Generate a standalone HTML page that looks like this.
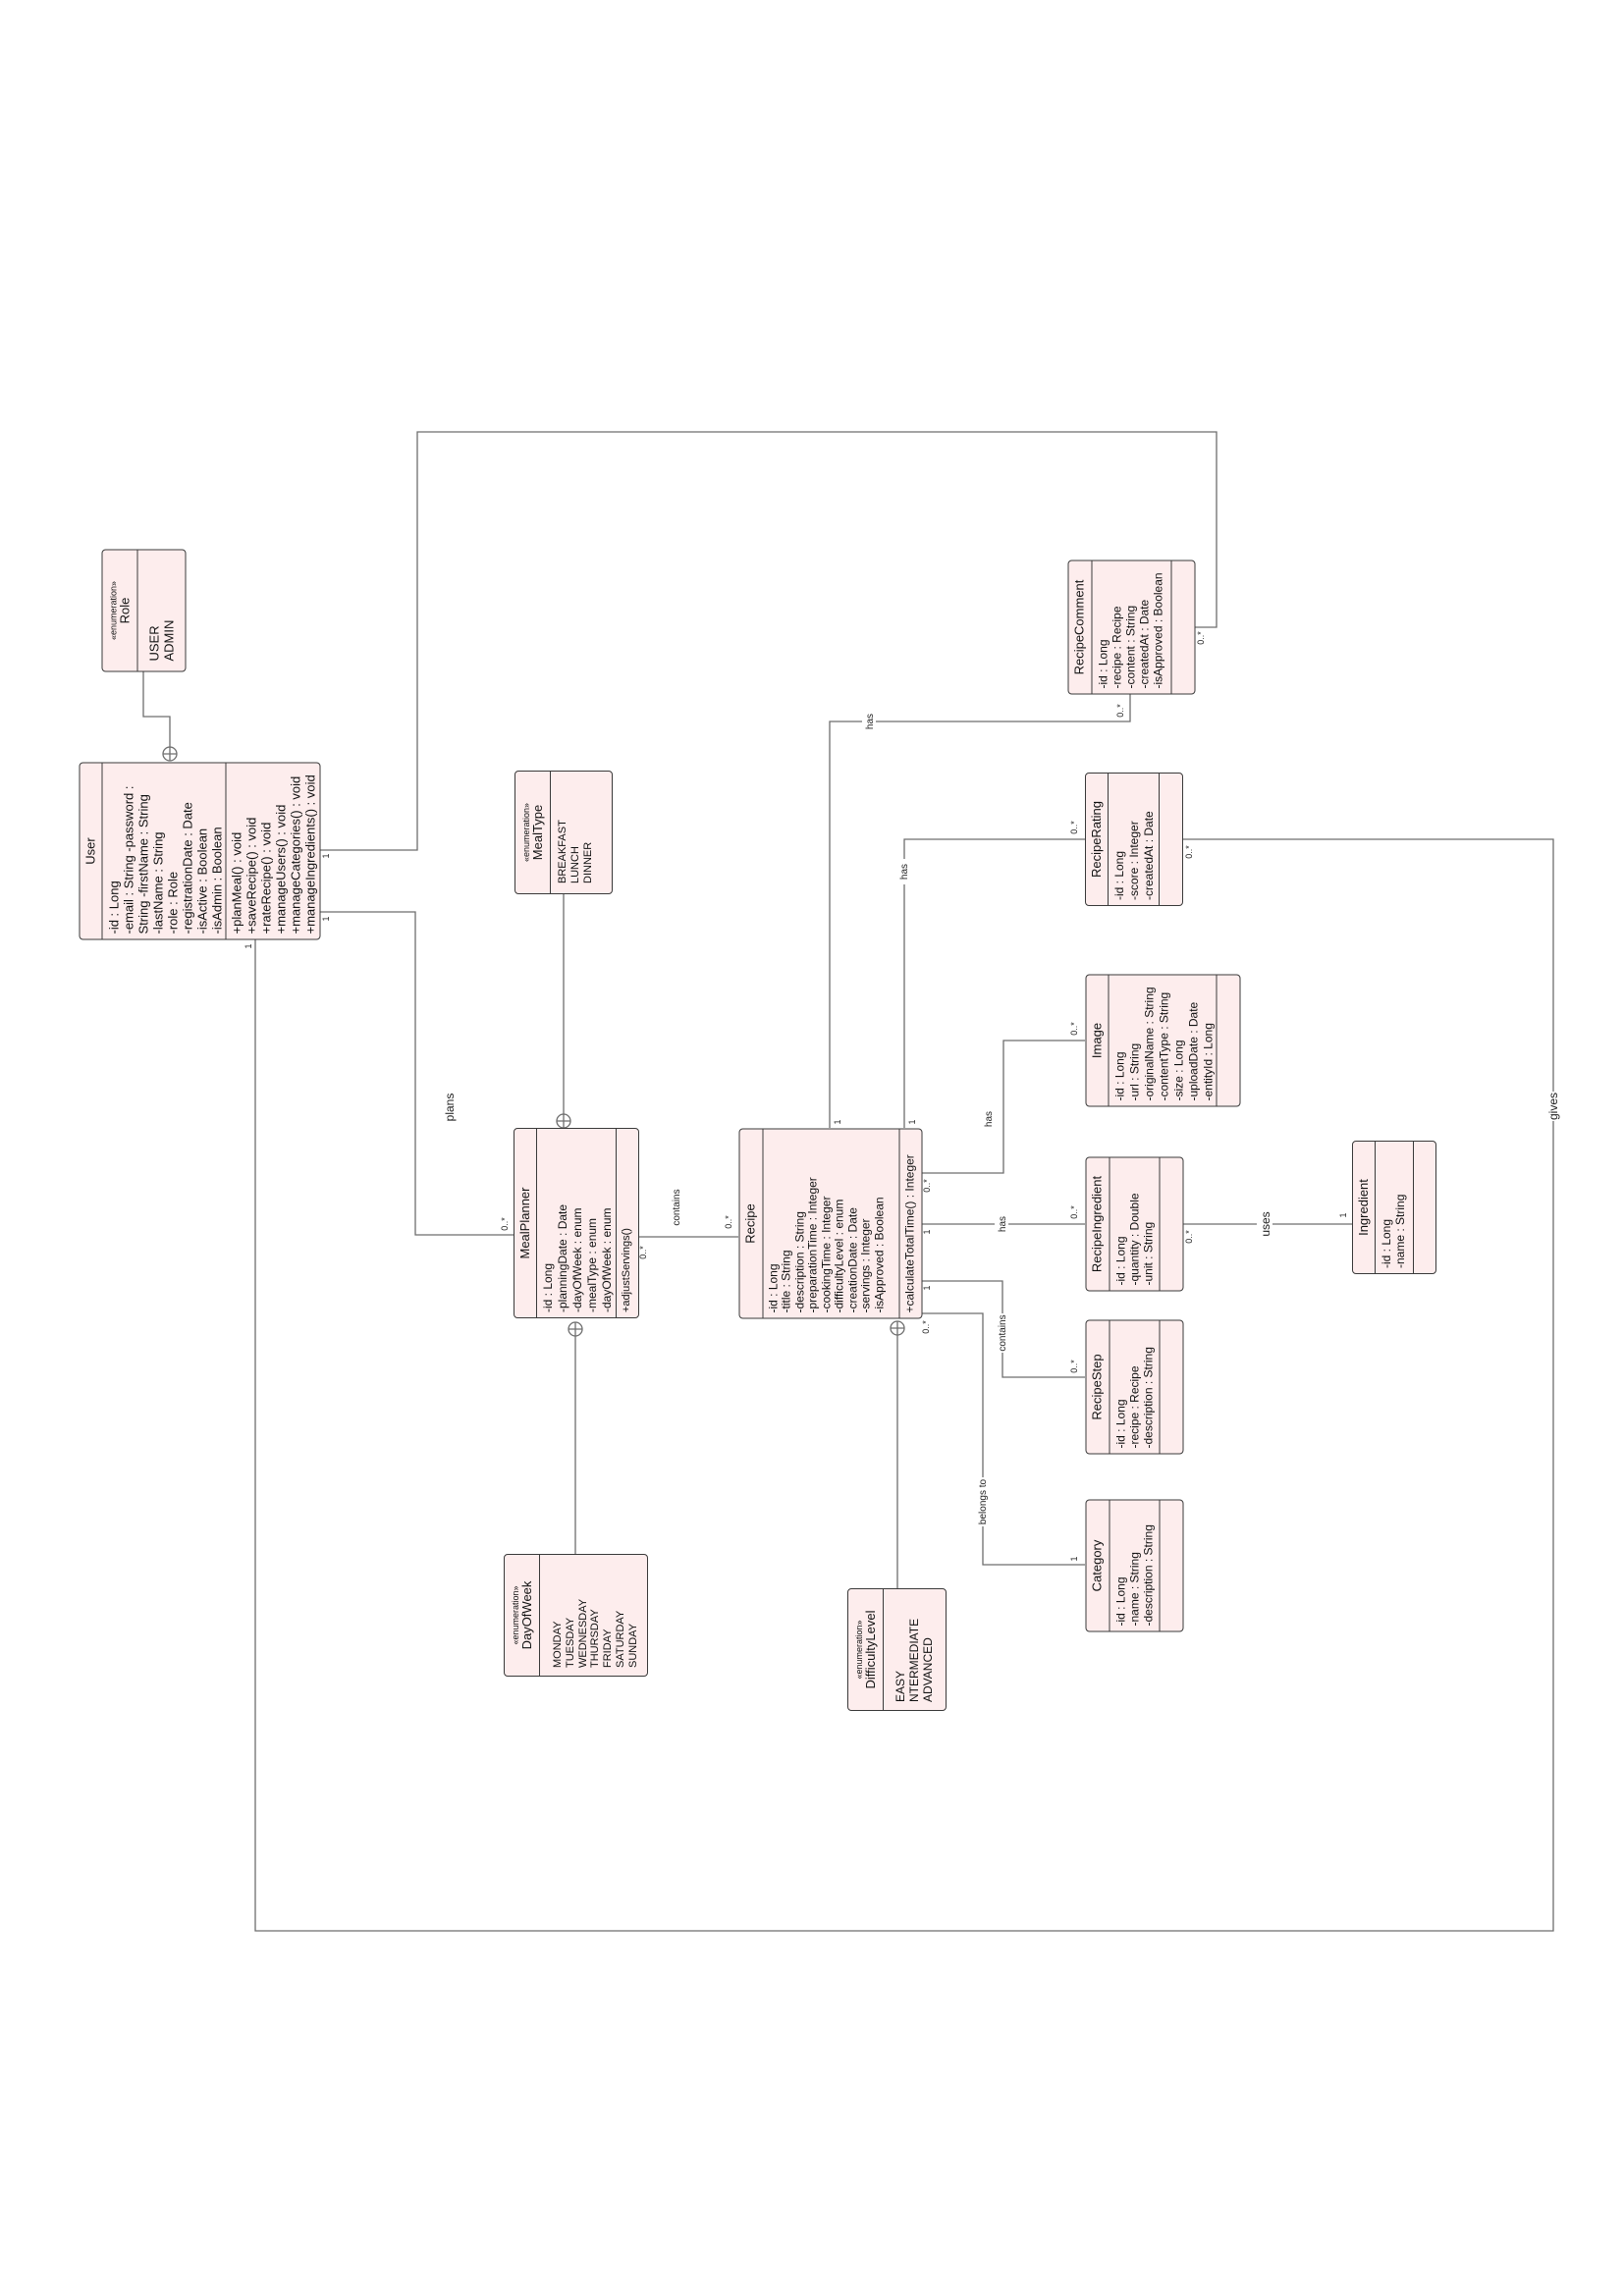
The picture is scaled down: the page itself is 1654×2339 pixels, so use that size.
<!DOCTYPE html>
<html><head><meta charset="utf-8">
<style>
html,body{margin:0;padding:0;background:#fff;}
body{width:1654px;height:2339px;position:relative;overflow:hidden;font-family:"Liberation Sans",Arial,sans-serif;color:#111;}
.box{position:absolute;transform:rotate(-90deg);transform-origin:center center;box-sizing:border-box;border:1.5px solid #3a3a3a;border-radius:4px;background:#fdeded;display:flex;flex-direction:column;overflow:hidden;}
.box>div{box-sizing:border-box;}
.hd{display:flex;flex-direction:column;align-items:center;justify-content:center;border-bottom:1.5px solid #3a3a3a;font-size:13px;line-height:14px;text-align:center;}
.hd .st{font-size:9px;line-height:10px;}
.at{padding:4px 0 0 5px;white-space:nowrap;}
.me{border-top:1.5px solid #3a3a3a;padding:3px 0 0 5px;white-space:nowrap;}
.ev{padding:10px 0 0 16px;white-space:nowrap;}
svg{position:absolute;left:0;top:0;}
</style></head><body>
<svg width="1654" height="2339">
<g fill="none" stroke="#6e6e6e" stroke-width="1.3">
<path d="M326 866 H425 V440 H1239 V639 H1217"/>
<path d="M326 929 H423 V1258 H523"/>
<path d="M260 957 V1967 H1582 V855 H1205"/>
<path d="M146 684 V730 H173 V761"/>
<path d="M574 911 V1136"/>
<path d="M586 1361 V1583"/>
<path d="M914 1360 V1618"/>
<path d="M651 1260 H752"/>
<path d="M845 1149 V735 H1151 V707"/>
<path d="M921 1149 V855 H1105"/>
<path d="M939 1195 H1022 V1060 H1105"/>
<path d="M939 1247 H1105"/>
<path d="M939 1305 H1021 V1403 H1105"/>
<path d="M939 1338 H1001 V1594 H1105"/>
<path d="M1205 1247 H1377"/>
<circle cx="173" cy="768" r="7"/><path d="M166 768 H180 M173 761 V775"/>
<circle cx="574" cy="1142" r="7"/><path d="M567 1142 H581 M574 1135 V1149"/>
<circle cx="586" cy="1354" r="7"/><path d="M579 1354 H593 M586 1347 V1361"/>
<circle cx="914" cy="1353" r="7"/><path d="M907 1353 H921 M914 1346 V1360"/>
</g>
<g font-family="Liberation Sans, Arial, sans-serif" font-size="10" fill="#222" text-anchor="middle">
<rect x="878" y="722" width="14" height="26" fill="#fff"/>
<text transform="translate(889,735) rotate(-90)">has</text>
<rect x="913" y="875" width="14" height="26" fill="#fff"/>
<text transform="translate(924,888) rotate(-90)">has</text>
<text transform="translate(1010,1140) rotate(-90)">has</text>
<rect x="1013" y="1234" width="14" height="26" fill="#fff"/>
<text transform="translate(1024,1247) rotate(-90)">has</text>
<rect x="1013" y="1338" width="14" height="40" fill="#fff"/>
<text transform="translate(1024,1358) rotate(-90)">contains</text>
<rect x="993" y="1505" width="14" height="50" fill="#fff"/>
<text transform="translate(1004,1530) rotate(-90)">belongs to</text>
<text transform="translate(692,1230) rotate(-90)">contains</text>
<text font-size="12" transform="translate(462,1128) rotate(-90)">plans</text>
<rect x="1280" y="1234" width="16" height="26" fill="#fff"/>
<text font-size="12" transform="translate(1293,1247) rotate(-90)">uses</text>
<rect x="1574" y="1112" width="16" height="30" fill="#fff"/>
<text font-size="12" transform="translate(1586,1127) rotate(-90)">gives</text>
<g font-size="9">
<text transform="translate(335,872) rotate(-90)">1</text>
<text transform="translate(335,936) rotate(-90)">1</text>
<text transform="translate(256,964) rotate(-90)">1</text>
<text transform="translate(517,1247) rotate(-90)">0..*</text>
<text transform="translate(658,1276) rotate(-90)">0..*</text>
<text transform="translate(745,1245) rotate(-90)">0..*</text>
<text transform="translate(856,1143) rotate(-90)">1</text>
<text transform="translate(932,1143) rotate(-90)">1</text>
<text transform="translate(947,1208) rotate(-90)">0..*</text>
<text transform="translate(947,1255) rotate(-90)">1</text>
<text transform="translate(947,1312) rotate(-90)">1</text>
<text transform="translate(946,1352) rotate(-90)">0..*</text>
<text transform="translate(1144,724) rotate(-90)">0..*</text>
<text transform="translate(1226,650) rotate(-90)">0..*</text>
<text transform="translate(1097,843) rotate(-90)">0..*</text>
<text transform="translate(1214,868) rotate(-90)">0..*</text>
<text transform="translate(1097,1048) rotate(-90)">0..*</text>
<text transform="translate(1097,1235) rotate(-90)">0..*</text>
<text transform="translate(1214,1260) rotate(-90)">0..*</text>
<text transform="translate(1371,1238) rotate(-90)">1</text>
<text transform="translate(1097,1392) rotate(-90)">0..*</text>
<text transform="translate(1097,1588) rotate(-90)">1</text>
</g>
</g>
</svg>

<div class="box" style="left:112.5px;top:743.5px;width:181px;height:246px;">
 <div class="hd" style="height:23px;">User</div>
 <div class="at" style="height:126px;font-size:13px;line-height:15px;">-id : Long<br>-email : String -password :<br>String -firstName : String<br>-lastName : String<br>-role : Role<br>-registrationDate : Date<br>-isActive : Boolean<br>-isAdmin : Boolean</div>
 <div class="me" style="height:97px;font-size:13px;line-height:15px;">+planMeal() : void<br>+saveRecipe() : void<br>+rateRecipe() : void<br>+manageUsers() : void<br>+manageCategories() : void<br>+manageIngredients() : void</div>
</div>

<div class="box" style="left:83.5px;top:578.5px;width:125px;height:86px;">
 <div class="hd" style="height:36px;"><span class="st">«enumeration»</span>Role</div>
 <div class="ev" style="font-size:13px;line-height:15px;padding-left:10px;padding-top:9px;">USER<br>ADMIN</div>
</div>

<div class="box" style="left:511px;top:798px;width:126px;height:100px;">
 <div class="hd" style="height:36px;"><span class="st">«enumeration»</span>MealType</div>
 <div class="ev" style="font-size:11px;line-height:13px;padding-left:10px;padding-top:6px;">BREAKFAST<br>LUNCH<br>DINNER</div>
</div>

<div class="box" style="left:490px;top:1182px;width:194px;height:128px;">
 <div class="hd" style="height:23px;">MealPlanner</div>
 <div class="at" style="height:82px;font-size:12px;line-height:15px;">-id : Long<br>-planningDate : Date<br>-dayOfWeek : enum<br>-mealType : enum<br>-dayOfWeek : enum</div>
 <div class="me" style="height:23px;font-size:11px;line-height:14px;">+adjustServings()</div>
</div>

<div class="box" style="left:748.5px;top:1152.5px;width:194px;height:187px;">
 <div class="hd" style="height:24px;">Recipe</div>
 <div class="at" style="height:140px;font-size:12px;line-height:13.5px;">-id : Long<br>-title : String<br>-description : String<br>-preparationTime : Integer<br>-cookingTime : Integer<br>-difficultyLevel : enum<br>-creationDate : Date<br>-servings : Integer<br>-isApproved : Boolean</div>
 <div class="me" style="height:23px;font-size:12px;line-height:14px;">+calculateTotalTime() : Integer</div>
</div>

<div class="box" style="left:524px;top:1572px;width:125px;height:147px;">
 <div class="hd" style="height:36px;"><span class="st">«enumeration»</span>DayOfWeek</div>
 <div class="ev" style="font-size:11px;line-height:12.8px;padding-left:8px;padding-top:12px;">MONDAY<br>TUESDAY<br>WEDNESDAY<br>THURSDAY<br>FRIDAY<br>SATURDAY<br>SUNDAY</div>
</div>

<div class="box" style="left:851px;top:1630px;width:125px;height:101px;">
 <div class="hd" style="height:36px;"><span class="st">«enumeration»</span>DifficultyLevel</div>
 <div class="ev" style="font-size:12px;line-height:14px;padding-left:8px;padding-top:10px;">EASY<br>NTERMEDIATE<br>ADVANCED</div>
</div>

<div class="box" style="left:1083.5px;top:573.5px;width:137px;height:130px;">
 <div class="hd" style="height:24px;">RecipeComment</div>
 <div class="at" style="height:82px;font-size:12px;line-height:14px;">-id : Long<br>-recipe : Recipe<br>-content : String<br>-createdAt : Date<br>-isApproved : Boolean</div>
 <div class="me" style="height:24px;"></div>
</div>

<div class="box" style="left:1087px;top:805px;width:136px;height:100px;">
 <div class="hd" style="height:23px;">RecipeRating</div>
 <div class="at" style="height:53px;font-size:12px;line-height:15px;">-id : Long<br>-score : Integer<br>-createdAt : Date</div>
 <div class="me" style="height:24px;"></div>
</div>

<div class="box" style="left:1116.5px;top:980.5px;width:135px;height:158px;">
 <div class="hd" style="height:23px;">Image</div>
 <div class="at" style="height:111px;font-size:12px;line-height:15px;">-id : Long<br>-url : String<br>-originalName : String<br>-contentType : String<br>-size : Long<br>-uploadDate : Date<br>-entityId : Long</div>
 <div class="me" style="height:24px;"></div>
</div>

<div class="box" style="left:1086.5px;top:1196.5px;width:137px;height:100px;">
 <div class="hd" style="height:24px;">RecipeIngredient</div>
 <div class="at" style="height:52px;font-size:12px;line-height:14px;">-id : Long<br>-quantity : Double<br>-unit : String</div>
 <div class="me" style="height:24px;"></div>
</div>

<div class="box" style="left:1086.5px;top:1362.5px;width:137px;height:100px;">
 <div class="hd" style="height:24px;">RecipeStep</div>
 <div class="at" style="height:52px;font-size:12px;line-height:14px;">-id : Long<br>-recipe : Recipe<br>-description : String</div>
 <div class="me" style="height:24px;"></div>
</div>

<div class="box" style="left:1087.5px;top:1544.5px;width:135px;height:100px;">
 <div class="hd" style="height:24px;">Category</div>
 <div class="at" style="height:52px;font-size:12px;line-height:14px;">-id : Long<br>-name : String<br>-description : String</div>
 <div class="me" style="height:24px;"></div>
</div>

<div class="box" style="left:1352px;top:1187px;width:136px;height:86px;">
 <div class="hd" style="height:24px;">Ingredient</div>
 <div class="at" style="height:38px;font-size:12px;line-height:14px;">-id : Long<br>-name : String</div>
 <div class="me" style="height:24px;"></div>
</div>
</body></html>
